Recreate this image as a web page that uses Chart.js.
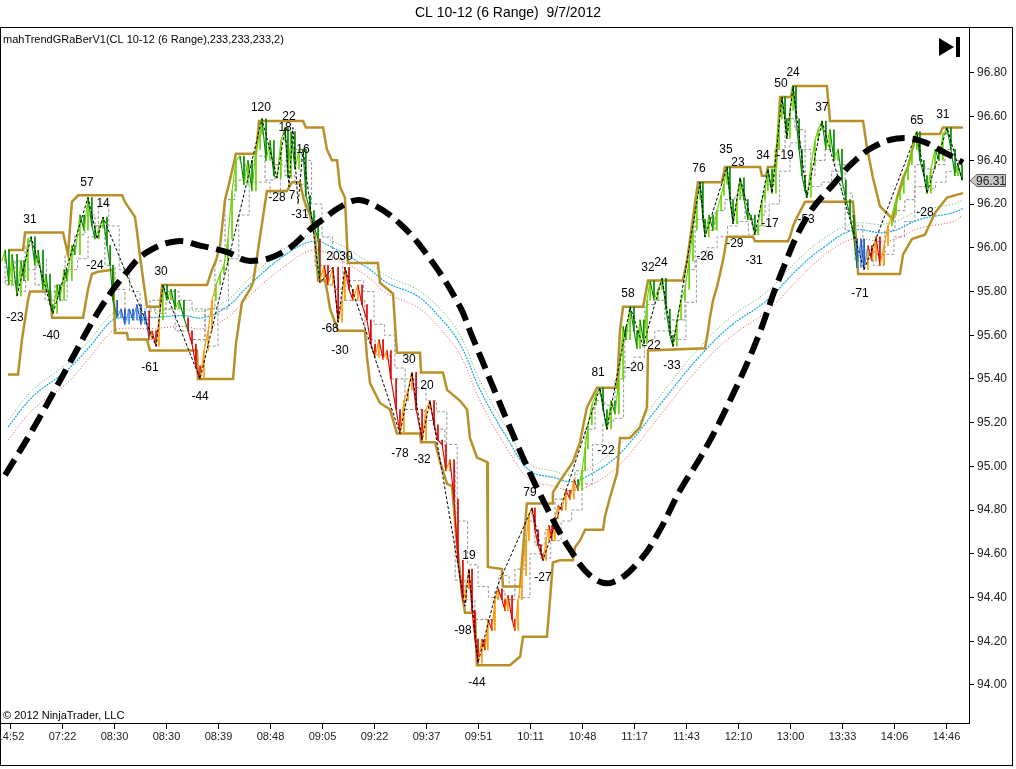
<!DOCTYPE html>
<html>
<head>
<meta charset="utf-8">
<script src="https://cdn.jsdelivr.net/npm/chart.js@4.4.0/dist/chart.umd.min.js"></script>
<style>
  html, body { margin: 0; padding: 0; background: #fff; }
  canvas { display: block; }
</style>
</head>
<body>
<canvas id="rangeChart" width="1016" height="769"></canvas>
<script>
// time labels on the bottom axis, one every 20 bars
const timeLabels = ['14:52', '07:22', '08:30', '08:30', '08:39', '08:48', '09:05', '09:22', '09:37', '09:51',
    '10:11', '10:48', '11:17', '11:43', '12:10', '13:00', '13:33', '14:06', '14:46'];
const timeBars = [0, 20, 40, 60, 80, 100, 120, 140, 160, 180, 200, 220, 240, 260, 280, 300, 320, 340, 360];
const priceTicks = [94.0, 94.2, 94.4, 94.6, 94.8, 95.0, 95.2, 95.4, 95.6, 95.8, 96.0, 96.2, 96.4, 96.6, 96.8];
const lastPrice = 96.31;

// price path [bar, price]
const pricePath = [[-3.1,95.94],[-1.9,95.99],[-0.4,95.83],[0.8,95.97],[2.7,95.78],[4.2,95.94],[5.4,95.85],[6.9,96.04],[8.1,96.05],[9.6,95.92],
    [10.8,95.99],[12.7,95.81],[13.8,95.88],[15.4,95.74],[16.5,95.70],[18.1,95.83],[19.2,95.76],[20.8,95.90],[21.9,95.85],[23.8,96.01],
    [25,95.97],[26.9,96.15],[28.5,96.08],[30,96.23],[31.5,96.10],[32.7,96.04],[34.2,96.09],[35.8,96.14],[37.3,96.01],[38.5,95.92],
    [39.6,95.76],[41.2,95.68],[42.7,95.72],[44.2,95.65],[45.8,95.72],[47.3,95.67],[48.8,95.74],[50.4,95.65],[51.9,95.71],[53.5,95.58],
    [54.6,95.62],[56.2,95.55],[57.3,95.67],[58.8,95.83],[60.4,95.76],[61.9,95.81],[63.5,95.72],[65,95.76],[66.9,95.68],[68.5,95.62],
    [70,95.56],[71.5,95.46],[73.1,95.40],[74.6,95.53],[76.2,95.62],[77.7,95.76],[79.2,95.83],[80.8,95.88],[82.3,95.92],[83.8,96.04],
    [85.4,96.26],[86.9,96.40],[88.5,96.42],[90,96.29],[91.5,96.40],[93.1,96.26],[94.6,96.45],[96.2,96.52],[96.9,96.59],[98.5,96.40],
    [100,96.49],[101.5,96.33],[102.7,96.32],[104.2,96.49],[105.8,96.55],[106.9,96.32],[108.1,96.53],[109.6,96.36],[111.2,96.45],[112.7,96.45],
    [113.8,96.24],[115.4,96.17],[116.9,96.10],[118.5,96.04],[119.2,95.85],[120.8,95.92],[122.3,95.83],[124.2,95.91],[126.2,95.66],[127.7,95.76],
    [128.8,95.91],[130.4,95.81],[131.9,95.76],[133.8,95.83],[135.4,95.74],[137.3,95.67],[138.8,95.56],[140.4,95.50],[141.9,95.58],[143.5,95.49],
    [145,95.53],[146.5,95.40],[148.5,95.26],[150,95.15],[151.5,95.30],[153.1,95.35],[154.6,95.43],[156.2,95.26],[158.5,95.12],[160,95.26],
    [161.5,95.30],[163.1,95.19],[164.6,95.12],[166.2,95.10],[167.7,94.98],[169.2,95.03],[170.8,94.85],[172.3,94.57],[174.2,94.38],[175.4,94.44],
    [176.5,94.53],[177.7,94.34],[178.8,94.21],[180,94.10],[181.5,94.21],[182.7,94.16],[183.8,94.30],[185.4,94.25],[186.5,94.39],[187.7,94.44],
    [189.2,94.39],[190.4,94.34],[191.5,94.41],[193.1,94.30],[194.2,94.25],[195.4,94.39],[196.9,94.50],[198.5,94.66],[199.6,94.78],[200.8,94.81],
    [201.9,94.71],[203.1,94.64],[204.2,94.60],[205,94.57],[206.2,94.66],[207.3,94.73],[208.5,94.66],[209.6,94.76],[210.8,94.82],[212.3,94.80],
    [213.8,94.89],[215.4,94.85],[216.9,94.94],[218.5,94.89],[220,94.98],[221.2,95.08],[222.3,95.19],[223.8,95.28],[225.4,95.33],[226.9,95.36],
    [228.1,95.26],[229.6,95.17],[231.2,95.30],[232.7,95.24],[234.2,95.40],[235.8,95.64],[236.9,95.58],[238.5,95.73],[240,95.62],[241.2,95.54],
    [242.3,95.67],[243.8,95.56],[245,95.76],[246.2,95.85],[247.7,95.76],[249.2,95.81],[250.8,95.86],[252.3,95.72],[253.8,95.60],[255,95.55],
    [256.5,95.67],[258.1,95.76],[259.6,95.81],[261.2,95.94],[262.7,96.08],[264.2,96.22],[265.4,96.30],[266.5,96.13],[267.3,96.05],[268.8,96.15],
    [270.4,96.08],[271.9,96.17],[273.5,96.24],[274.6,96.29],[275.8,96.37],[276.9,96.22],[278.1,96.11],[279.6,96.22],[280.8,96.32],[282.3,96.22],
    [283.8,96.13],[285,96.15],[286.5,96.06],[287.7,96.10],[289.2,96.22],[290.4,96.26],[291.5,96.36],[293.1,96.25],[294.6,96.45],[295.8,96.59],
    [296.9,96.69],[298.1,96.59],[298.8,96.50],[300,96.63],[301.2,96.74],[302.3,96.59],[303.5,96.45],[304.6,96.33],[305.8,96.26],[306.5,96.23],
    [308.1,96.38],[309.6,96.49],[310.8,96.54],[312.3,96.58],[313.8,96.45],[315.4,96.54],[316.9,96.40],[318.5,96.45],[320,96.31],[321.5,96.22],
    [323.1,96.15],[324.6,96.04],[325.8,95.91],[327.3,96.04],[328.5,95.90],[330,96.01],[331.5,95.94],[333.1,96.05],[334.6,95.92],[336.2,96.01],
    [337.7,96.10],[339.2,96.15],[340.8,96.22],[342.3,96.25],[343.8,96.31],[345.4,96.38],[346.9,96.45],[348.8,96.53],[350,96.40],[351.5,96.33],
    [352.7,96.25],[354.2,96.36],[355.8,96.45],[357.3,96.40],[358.8,96.52],[360.4,96.55],[361.9,96.45],[363.5,96.33],[364.6,96.38],[366.2,96.31]];

// trend colouring of the bars: [last bar of zone, zone]
const trendZones = [[40, 'g'], [52, 'b'], [58, 'r'], [67, 'g'], [78, 'r'], [119, 'g'], [218, 'r'], [325, 'g'], [329, 'b'], [338, 'r'], [400, 'g']];

const upperBand = [[-0.8,95.99],[5.0,95.99],[5.8,96.07],[20.4,96.07],[21.5,96.01],[22.3,95.97],[23.8,96.21],[26.2,96.24],[43.1,96.24],[44.2,96.21],
    [48.1,96.14],[49.2,96.04],[50.0,95.96],[51.5,95.83],[52.7,95.73],[57.7,95.73],[58.5,95.83],[75.8,95.83],[77.7,95.90],[79.2,95.94],
    [80.8,96.01],[82.7,96.22],[84.2,96.29],[86.9,96.43],[94.6,96.43],[95.8,96.58],[112.7,96.58],[113.8,96.55],[120.4,96.55],[121.9,96.45],
    [123.8,96.40],[125.8,96.40],[126.9,96.28],[128.8,96.23],[130.0,95.93],[141.5,95.93],[142.3,95.84],[147.3,95.79],[148.8,95.52],[157.7,95.52],
    [158.1,95.43],[166.5,95.43],[168.1,95.35],[173.1,95.30],[175.8,95.26],[176.9,95.13],[179.6,95.04],[183.5,95.02],[183.8,94.54],[189.2,94.53],
    [189.6,94.45],[196.2,94.45],[196.9,94.56],[198.8,94.83],[208.5,94.83],[208.8,94.88],[210.8,94.92],[216.5,95.02],[219.2,95.11],[221.9,95.27],
    [225.8,95.36],[233.5,95.36],[234.6,95.62],[235.8,95.73],[243.5,95.73],[245.4,95.85],[258.8,95.85],[260.4,95.94],[264.6,96.30],[273.8,96.30],
    [275.0,96.37],[288.5,96.37],[289.2,96.33],[290.8,96.33],[291.5,96.37],[294.6,96.37],[296.2,96.69],[300.4,96.69],[301.2,96.74],[314.2,96.74],
    [315.4,96.58],[328.1,96.58],[329.6,96.46],[331.9,96.32],[334.6,96.19],[339.6,96.13],[341.2,96.23],[343.5,96.32],[345.4,96.37],[348.5,96.52],
    [357.7,96.52],[358.8,96.55],[366.5,96.55]];

const lowerBand = [[-0.8,95.42],[3.1,95.42],[4.6,95.58],[6.9,95.76],[7.7,95.80],[15.4,95.80],[16.2,95.68],[28.1,95.68],[30.0,95.81],[31.5,95.88],
    [33.8,95.89],[39.6,95.90],[40.4,95.61],[45.0,95.61],[45.4,95.58],[52.7,95.58],[53.8,95.53],[71.9,95.53],[72.3,95.40],[85.8,95.40],
    [86.9,95.56],[89.2,95.75],[92.3,95.81],[93.5,95.84],[95.4,95.99],[97.3,96.14],[98.8,96.26],[106.5,96.26],[108.5,96.30],[111.5,96.30],
    [113.0,96.22],[115.4,96.15],[117.3,96.05],[118.5,95.85],[121.2,95.85],[122.3,95.78],[123.1,95.72],[126.2,95.62],[136.5,95.62],[137.3,95.50],
    [138.5,95.38],[142.3,95.29],[146.2,95.26],[148.8,95.15],[157.7,95.15],[158.1,95.11],[163.5,95.11],[165.4,95.02],[168.1,94.92],[170.0,94.91],
    [171.9,94.65],[173.8,94.42],[175.0,94.33],[178.8,94.33],[179.6,94.09],[192.3,94.09],[194.2,94.11],[196.2,94.13],[197.3,94.22],[206.5,94.22],
    [207.7,94.39],[208.8,94.56],[211.5,94.57],[216.5,94.57],[217.3,94.63],[219.2,94.66],[221.2,94.71],[228.1,94.71],[228.8,94.77],[230.8,94.86],
    [232.3,94.92],[233.5,94.97],[234.6,95.13],[238.5,95.13],[242.3,95.18],[245.0,95.27],[245.4,95.53],[267.3,95.54],[268.5,95.62],[269.2,95.68],
    [270.4,95.76],[271.9,95.82],[274.2,95.94],[275.8,96.05],[285.8,96.05],[286.5,96.03],[299.2,96.03],[300.0,96.05],[301.2,96.10],[302.7,96.14],
    [305.8,96.21],[324.2,96.21],[325.4,96.04],[326.2,95.88],[342.3,95.88],[343.5,95.97],[346.9,96.04],[351.9,96.06],[355.8,96.16],[360.4,96.23],
    [366.5,96.25]];

// grey trailing stops
const trailFast = [[-1.9,95.94],[1.9,95.83],[5.8,95.94],[9.6,96.01],[13.5,95.83],[17.3,95.76],[21.2,95.83],[25.0,95.97],[28.8,96.06],[32.7,96.15],
    [36.5,96.10],[40.4,95.92],[44.2,95.81],[48.1,95.67],[53.8,95.67],[57.7,95.76],[63.5,95.72],[69.2,95.62],[75.0,95.58],[78.8,95.72],
    [82.7,95.94],[86.5,96.22],[90.4,96.31],[94.2,96.38],[98.1,96.42],[101.9,96.31],[105.8,96.38],[109.6,96.33],[113.5,96.29],[117.3,96.15],
    [121.2,95.92],[125.0,95.83],[128.8,95.81],[132.7,95.76],[136.5,95.76],[140.4,95.58],[146.2,95.51],[151.9,95.40],[155.8,95.26],[159.6,95.26],
    [163.5,95.21],[167.3,95.17],[171.2,94.98],[175.0,94.48],[178.8,94.39],[182.7,94.30],[186.5,94.30],[190.4,94.43],[194.2,94.39],[198.1,94.53],
    [201.9,94.75],[205.8,94.64],[209.6,94.71],[213.5,94.85],[217.3,94.89],[221.2,94.98],[225.0,95.17],[228.8,95.30],[232.7,95.28],[236.5,95.40],
    [240.4,95.62],[244.2,95.62],[248.1,95.74],[251.9,95.76],[255.8,95.67],[259.6,95.67],[263.5,95.90],[267.3,96.13],[271.2,96.08],[275.0,96.17],
    [278.8,96.22],[282.7,96.24],[286.5,96.13],[290.4,96.15],[294.2,96.29],[298.1,96.45],[301.9,96.59],[305.8,96.54],[309.6,96.33],[313.5,96.40],
    [317.3,96.45],[321.2,96.38],[325.0,96.08],[328.8,95.94],[332.7,95.99],[336.5,95.97],[340.4,96.08],[344.2,96.17],[348.1,96.22],[351.9,96.38],
    [355.8,96.36],[359.6,96.38],[363.5,96.45],[366.5,96.40]];
const trailSlow = [[-1.9,95.85],[3,95.85],[6,95.80],[10,95.90],[14,95.95],[18,95.80],[22,95.76],[26,95.90],[30,95.95],[34,96.05],
    [38,96.20],[42,96.10],[46,95.90],[50,95.80],[56,95.72],[60,95.70],[65,95.80],[70,95.76],[75,95.72],[80,95.55],
    [84,95.72],[88,95.95],[92,96.15],[96,96.30],[100,96.30],[104,96.25],[108,96.40],[112,96.45],[116,96.40],[120,96.20],
    [124,96.05],[128,95.95],[132,95.85],[136,95.85],[140,95.80],[144,95.65],[148,95.60],[152,95.45],[156,95.40],[160,95.36],
    [164,95.30],[168,95.25],[172,95.10],[176,94.75],[180,94.55],[184,94.45],[188,94.40],[192,94.50],[196,94.45],[200,94.40],
    [204,94.60],[208,94.58],[212,94.66],[216,94.75],[220,94.80],[224,94.92],[228,95.10],[232,95.20],[236,95.22],[240,95.45],
    [244,95.50],[248,95.58],[252,95.62],[256,95.62],[260,95.58],[264,95.75],[268,95.95],[272,96.00],[276,96.05],[280,96.10],
    [284,96.12],[288,96.06],[292,96.10],[296,96.20],[300,96.35],[304,96.48],[308,96.45],[312,96.28],[316,96.30],[320,96.35],
    [324,96.25],[328,96.10],[332,95.95],[336,95.92],[340,95.97],[344,96.05],[348,96.12],[352,96.28],[356,96.27],[360,96.30],
    [364,96.35],[366.5,96.38]];

// moving averages
const maBars = [-0.8, 8.8, 21.9, 30.8, 38.5, 42.3, 53.8, 66.5, 74.2, 83.5, 91.2, 105.0, 116.5, 124.2, 137.3, 145.0, 156.5, 165.4, 173.1,
    180.8, 191.2, 200.0, 208.8, 216.5, 224.2, 231.9, 238.5, 251.2, 264.2, 276.9, 291.2, 302.7, 312.7, 324.2, 337.3, 350.0, 362.7, 366.5];
const maFast = [95.21, 95.35, 95.47, 95.58, 95.69, 95.71, 95.71, 95.72, 95.71, 95.76, 95.85, 95.99, 96.06, 96.03, 95.94, 95.87, 95.81, 95.72, 95.60,
    95.39, 95.17, 95.01, 94.98, 94.96, 95.00, 95.07, 95.15, 95.34, 95.53, 95.68, 95.80, 95.94, 96.04, 96.11, 96.11, 96.17, 96.20, 96.22];
const maMid = [95.18, 95.32, 95.44, 95.55, 95.66, 95.68, 95.68, 95.69, 95.68, 95.73, 95.82, 95.96, 96.03, 96.00, 95.91, 95.84, 95.78, 95.68, 95.56,
    95.35, 95.13, 94.98, 94.95, 94.93, 94.97, 95.03, 95.11, 95.30, 95.49, 95.64, 95.76, 95.90, 96.00, 96.08, 96.07, 96.13, 96.16, 96.18];
const maSlow = [95.12, 95.26, 95.38, 95.50, 95.61, 95.63, 95.63, 95.64, 95.63, 95.68, 95.77, 95.91, 95.99, 95.96, 95.87, 95.79, 95.73, 95.63, 95.51,
    95.30, 95.08, 94.94, 94.91, 94.89, 94.92, 94.98, 95.06, 95.25, 95.44, 95.59, 95.71, 95.85, 95.96, 96.04, 96.03, 96.09, 96.12, 96.15];

// thick cycle curve
const cycleCurve = [[-1.9,94.96],[8.8,95.17],[21.9,95.45],[34.6,95.72],[45.0,95.89],[52.7,95.98],[64.2,96.03],[73.1,96.01],[83.5,95.98],[92.3,95.94],
    [105.0,95.98],[118.1,96.11],[130.8,96.21],[137.3,96.21],[150.0,96.11],[162.7,95.93],[173.1,95.73],[176.9,95.62],[187.3,95.32],[197.3,95.04],
    [206.5,94.81],[215.4,94.62],[224.2,94.49],[231.9,94.47],[242.3,94.57],[250.0,94.71],[257.7,94.89],[266.5,95.06],[276.9,95.30],[287.3,95.58],
    [296.2,95.87],[306.5,96.14],[318.1,96.31],[324.2,96.39],[331.9,96.46],[341.2,96.50],[350.0,96.49],[358.8,96.44],[366.5,96.39]];

// swing zigzag
const swingPoints = [[2.7,95.78],[8.1,96.05],[16.5,95.70],[30.0,96.23],[33.5,96.04],[35.8,96.14],[56.2,95.55],[58.8,95.83],[73.1,95.40],[96.9,96.59],
    [102.7,96.32],[105.8,96.55],[107.3,96.28],[108.8,96.55],[110.8,96.20],[112.7,96.45],[119.2,95.84],[124.2,95.91],[126.2,95.66],[128.8,95.91],
    [150.0,95.15],[154.6,95.43],[158.5,95.12],[161.5,95.30],[175.0,94.36],[176.5,94.53],[180.0,94.10],[187.7,94.46],[200.8,94.81],[205.0,94.57],
    [226.9,95.36],[229.6,95.17],[238.5,95.73],[243.5,95.55],[250.8,95.86],[255.0,95.55],[265.4,96.30],[267.3,96.05],[275.8,96.37],[278.1,96.11],
    [280.8,96.32],[286.5,96.06],[291.5,96.36],[293.1,96.25],[296.9,96.69],[298.8,96.50],[301.2,96.74],[306.5,96.23],[312.3,96.58],[328.5,95.90],
    [348.8,96.53],[352.7,96.25],[360.4,96.55],[366.2,96.31]];

// swing size labels [text, bar, price]
const swingLabels = [['31',7.7,96.13],['-23',1.9,95.68],['57',29.6,96.30],['14',35.8,96.20],['-24',32.7,95.92],['-40',15.8,95.60],
    ['30',58.1,95.89],['-61',53.8,95.45],['-44',73.1,95.32],['120',96.5,96.64],['22',107.3,96.60],['18',105.8,96.55],['16',112.7,96.45],
    ['-28',102.7,96.23],['7',108.5,96.24],['-31',111.5,96.15],['20',124.2,95.96],['30',129.2,95.96],['-68',123.1,95.63],['-30',126.9,95.53],
    ['30',153.5,95.49],['20',160.4,95.37],['-78',150.0,95.06],['-32',158.5,95.03],['19',176.5,94.59],['-98',174.2,94.25],['-44',179.6,94.01],
    ['79',200.0,94.88],['-27',205.0,94.49],['81',226.2,95.43],['-22',229.2,95.07],['58',237.7,95.79],['-20',240.4,95.45],['32',245.4,95.91],
    ['24',250.4,95.93],['-22',246.9,95.55],['-33',254.6,95.46],['76',265.0,96.36],['-26',267.3,95.96],['35',275.4,96.45],['23',280.0,96.39],
    ['-29',278.8,96.02],['-31',286.2,95.94],['34',289.6,96.42],['-19',298.1,96.42],['-17',292.3,96.11],['50',296.5,96.75],['24',301.2,96.80],
    ['37',312.3,96.64],['-53',306.2,96.13],['-71',326.9,95.79],['65',348.8,96.58],['31',358.8,96.61],['-28',351.9,96.16]];

const FONT = '"Liberation Sans", Arial, sans-serif';
const toXY = arr => arr.map(([x, y]) => ({ x, y }));
const maData = vals => vals.map((v, i) => ({ x: maBars[i], y: v }));

const zoneColors = {
    g: { up: '#66d400', down: '#008800' },
    b: { up: '#4a8ee6', down: '#1f4fc0' },
    r: { up: '#ff9800', down: '#e00000' }
};
function zoneOf(bar) {
    for (const [end, z] of trendZones) {
        if (bar < end) return z;
    }
    return 'g';
}
function barColor(ctx) {
    const c = zoneColors[zoneOf(ctx.p0.parsed.x)];
    return ctx.p1.parsed.y >= ctx.p0.parsed.y ? c.up : c.down;
}

// each bar runs from the previous close to its own close
const barData = pricePath.map(([b, p], i) => ({ x: b, y: [i ? pricePath[i - 1][1] : p, p] }));
const barColors = pricePath.map(([b, p], i) => {
    const c = zoneColors[zoneOf(b)];
    return i && p < pricePath[i - 1][1] ? c.down : c.up;
});

const decor = {
    id: 'decor',
    afterDatasetsDraw(chart) {
        const { ctx, scales: { x, y } } = chart;
        ctx.save();
        ctx.font = '12px ' + FONT;
        ctx.fillStyle = '#000';
        ctx.textAlign = 'center';
        ctx.textBaseline = 'middle';
        swingLabels.forEach(([t, b, p]) => ctx.fillText(t, x.getPixelForValue(b), y.getPixelForValue(p)));
        ctx.restore();
    },
    afterDraw(chart) {
        const { ctx, chartArea: a, scales: { x, y } } = chart;
        ctx.save();
        // frames
        ctx.strokeStyle = '#000';
        ctx.lineWidth = 1;
        ctx.strokeRect(0.5, 27.5, 1012, 738);
        ctx.beginPath();
        ctx.moveTo(0, a.bottom + 0.5);
        ctx.lineTo(a.right + 0.5, a.bottom + 0.5);
        ctx.stroke();

        // time axis
        ctx.font = '11px ' + FONT;
        ctx.fillStyle = '#222';
        ctx.textAlign = 'center';
        ctx.textBaseline = 'middle';
        timeBars.forEach((b, i) => {
            const px = Math.round(x.getPixelForValue(b)) + 0.5;
            ctx.beginPath();
            ctx.moveTo(px, a.bottom);
            ctx.lineTo(px, a.bottom + 6);
            ctx.stroke();
            ctx.fillText(timeLabels[i], px, a.bottom + 14);
        });

        // title and texts
        ctx.fillStyle = '#000';
        ctx.font = '14px ' + FONT;
        ctx.fillText('CL 10-12 (6 Range)  9/7/2012', 508, 13);
        ctx.font = '11px ' + FONT;
        ctx.textAlign = 'left';
        ctx.fillText('mahTrendGRaBerV1(CL 10-12 (6 Range),233,233,233,2)', 3, 40);
        ctx.fillText('\u00a9 2012 NinjaTrader, LLC', 3, 716);

        // last price marker
        const py = Math.round(y.getPixelForValue(lastPrice)) + 0.5;
        ctx.beginPath();
        ctx.moveTo(a.right + 1, py);
        ctx.lineTo(a.right + 8, py - 6);
        ctx.lineTo(1005.5, py - 6);
        ctx.lineTo(1005.5, py + 6);
        ctx.lineTo(a.right + 8, py + 6);
        ctx.closePath();
        ctx.fillStyle = '#c8c8c8';
        ctx.fill();
        ctx.strokeStyle = '#606060';
        ctx.stroke();
        ctx.fillStyle = '#222';
        ctx.font = '12px ' + FONT;
        ctx.textAlign = 'center';
        ctx.fillText(lastPrice.toFixed(2), 991, py + 1);

        // scroll-to-end icon
        ctx.fillStyle = '#000';
        ctx.beginPath();
        ctx.moveTo(939, 38);
        ctx.lineTo(954, 47);
        ctx.lineTo(939, 56);
        ctx.closePath();
        ctx.fill();
        ctx.fillRect(956, 37, 4, 20);
        ctx.restore();
    }
};

const chartCtx = document.getElementById('rangeChart').getContext('2d');
const rangeChart = new Chart(chartCtx, {
    type: 'line',
    data: {
        datasets: [
            {
                label: 'Cycle',
                data: toXY(cycleCurve),
                borderColor: '#000',
                borderWidth: 6,
                borderDash: [18, 8],
                tension: 0.4,
                pointRadius: 0
            },
            {
                label: 'Swings',
                data: toXY(swingPoints),
                borderColor: '#000',
                borderWidth: 1,
                borderDash: [3, 2],
                pointRadius: 0
            },
            {
                label: 'Price',
                data: toXY(pricePath),
                borderWidth: 1.1,
                borderColor: '#008800',
                segment: { borderColor: barColor },
                pointRadius: 0
            },
            {
                type: 'bar',
                label: 'Bars',
                data: barData,
                backgroundColor: barColors,
                barThickness: 1,
                grouped: false
            },
            {
                label: 'Upper',
                data: toXY(upperBand),
                borderColor: '#b8902a',
                borderWidth: 2.5,
                pointRadius: 0
            },
            {
                label: 'Lower',
                data: toXY(lowerBand),
                borderColor: '#b8902a',
                borderWidth: 2.5,
                pointRadius: 0
            },
            {
                label: 'Trail fast',
                data: toXY(trailFast),
                borderColor: '#8a8a8a',
                borderWidth: 1,
                borderDash: [3, 2],
                stepped: 'after',
                pointRadius: 0
            },
            {
                label: 'Trail slow',
                data: toXY(trailSlow),
                borderColor: '#9a9a9a',
                borderWidth: 1,
                borderDash: [3, 2],
                stepped: 'after',
                pointRadius: 0
            },
            {
                label: 'MA fast',
                data: maData(maFast),
                borderColor: '#4caf50',
                borderWidth: 1,
                borderDash: [1, 2],
                tension: 0.4,
                pointRadius: 0
            },
            {
                label: 'MA mid',
                data: maData(maMid),
                borderColor: '#12a8e0',
                borderWidth: 1.2,
                borderDash: [2, 1],
                tension: 0.4,
                pointRadius: 0
            },
            {
                label: 'MA slow',
                data: maData(maSlow),
                borderColor: '#ff4040',
                borderWidth: 1,
                borderDash: [1, 2],
                tension: 0.4,
                pointRadius: 0
            }
        ]
    },
    options: {
        responsive: false,
        animation: false,
        devicePixelRatio: 1,
        layout: { padding: { top: 27, bottom: 46, left: 0, right: 0 } },
        plugins: {
            legend: { display: false },
            tooltip: { enabled: false }
        },
        scales: {
            x: {
                type: 'linear',
                display: false,
                offset: false,
                min: -3.85,
                max: 368.85
            },
            y: {
                type: 'linear',
                position: 'right',
                min: 93.826,
                max: 97.01,
                afterBuildTicks: s => { s.ticks = priceTicks.map(v => ({ value: v })); },
                afterFit: s => { s.width = 47; },
                grid: { drawOnChartArea: false, drawTicks: true, tickLength: 5, color: '#000' },
                border: { display: true, color: '#000' },
                ticks: {
                    color: '#222',
                    padding: 3,
                    font: { size: 12, family: FONT },
                    callback: v => Number(v).toFixed(2)
                }
            }
        }
    },
    plugins: [decor]
});
</script>
</body>
</html>
